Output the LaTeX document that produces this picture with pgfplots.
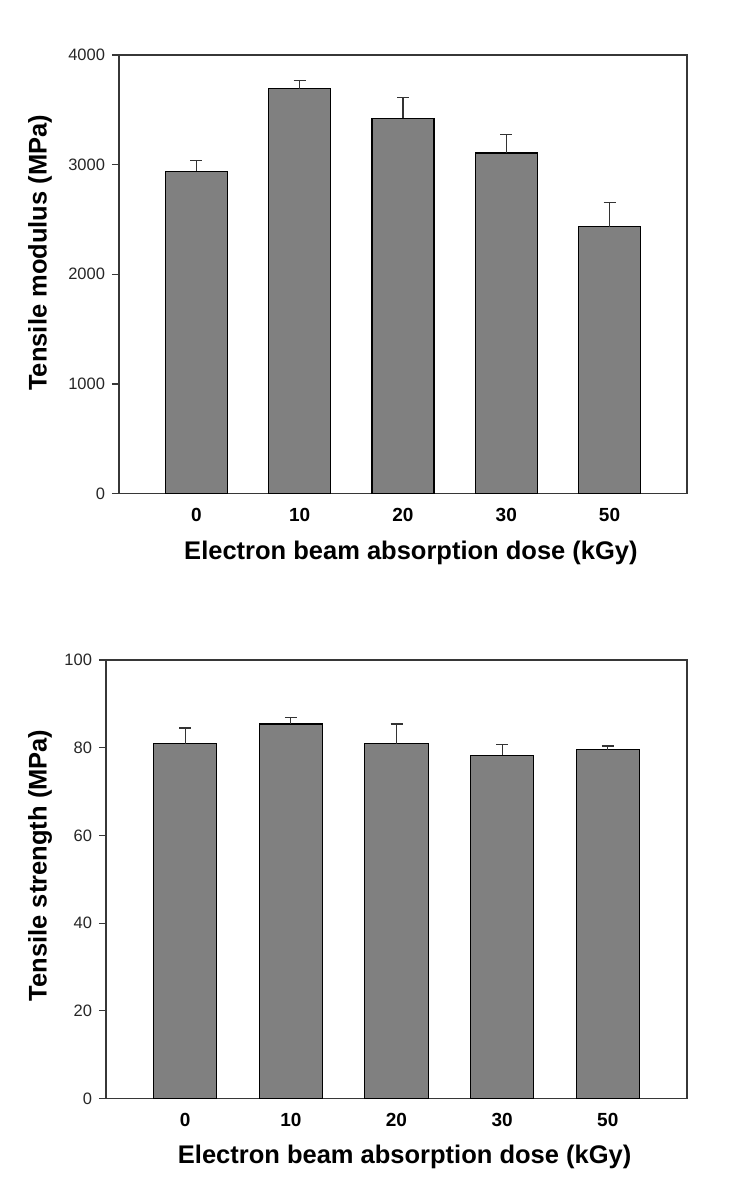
\documentclass[border=0pt]{standalone}
\usepackage{pgfplots}
\pgfplotsset{compat=1.18}
\usepackage{pgfplotstable}
\usepackage{fontspec}
\setmainfont{Liberation Sans}

\definecolor{barfill}{RGB}{128,128,128}
\definecolor{spine}{RGB}{55,55,55}

% tensile modulus (MPa), error = +SD
\pgfplotstableread{
x y e
0 2940 94
1 3692 73
2 3422 188
3 3106 173
4 2434 222
}\modulus

% tensile strength (MPa)
\pgfplotstableread{
x y e
0 80.9 3.6
1 85.4 1.4
2 80.9 4.5
3 78.3 2.4
4 79.5 0.9
}\strength

\pgfplotsset{
  panel/.style={
    scale only axis,
    height=438.6pt,
    ybar, bar width=0.6,
    xmin=-0.75, xmax=4.75,
    ymin=0,
    xtick=data,
    xticklabels={0,10,20,30,50},
    xtick style={draw=none},
    ytick pos=left,
    tick align=outside,
    major tick length=7pt,
    axis line style={spine, line width=1.4pt},
    ytick style={spine, line width=1.2pt},
    /pgf/number format/assume math mode=true,
    /pgf/number format/1000 sep={},
    yticklabel style={font=\fontsize{16.5}{18}\selectfont, text=black!85, xshift=-3.5pt},
    xticklabel style={font=\fontsize{19}{22}\selectfont\bfseries, anchor=base, yshift=-21pt},
    label style={font=\fontsize{25.5}{30}\selectfont\bfseries},
    xlabel={Electron beam absorption dose (kGy)},
  },
  barplot/.style={
    fill=barfill, draw=black, line width=1.1pt,
    error bars/.cd, y dir=plus, y explicit,
    error bar style={line width=1.1pt, black!80},
    error mark options={rotate=90, mark size=6pt, line width=1.1pt, black!80},
  },
}

\begin{document}
\begin{tikzpicture}
\useasboundingbox (0,0) rectangle (730pt,-1183pt);

\begin{axis}[panel,
  at={(119pt,-55pt)}, anchor=north west, width=568pt,
  ymax=4000, ytick={0,1000,2000,3000,4000},
  ylabel={Tensile modulus (MPa)},
  ylabel style={at={(axis description cs:-0.1275,0.549)}, anchor=base},
  xlabel style={at={(axis description cs:0.514,-0.1496)}, anchor=base},
]
\addplot[barplot] table[x=x, y=y, y error=e] {\modulus};
\end{axis}

\begin{axis}[panel,
  at={(106pt,-660pt)}, anchor=north west, width=581pt,
  ymax=100, ytick={0,20,40,60,80,100},
  ylabel={Tensile strength (MPa)},
  ylabel style={at={(axis description cs:-0.1022,0.532)}, anchor=base},
  xlabel style={at={(axis description cs:0.514,-0.1471)}, anchor=base},
]
\addplot[barplot] table[x=x, y=y, y error=e] {\strength};
\end{axis}
\end{tikzpicture}
\end{document}
